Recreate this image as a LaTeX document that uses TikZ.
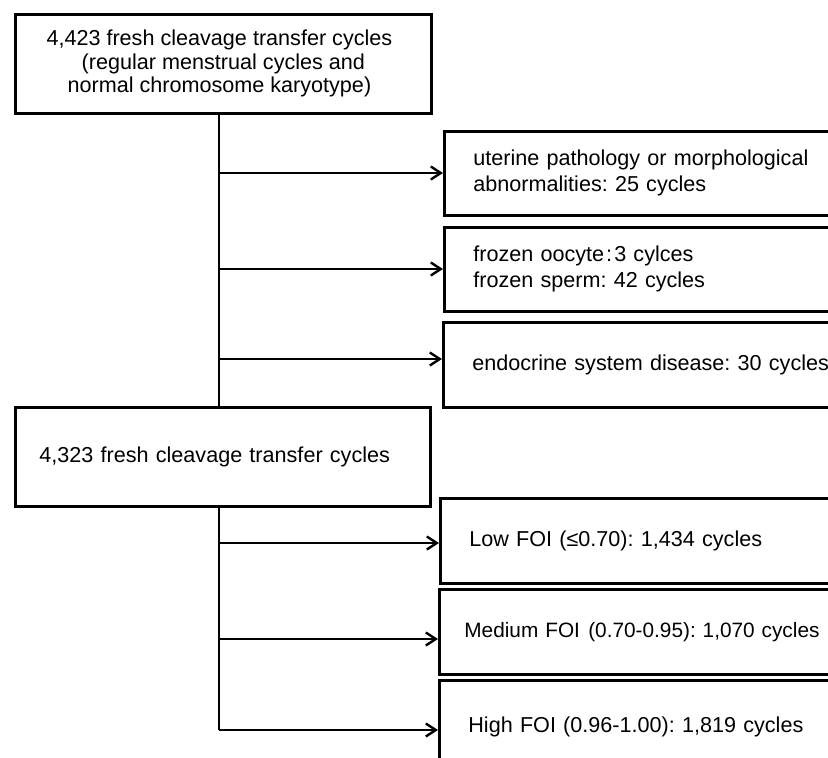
\documentclass[tikz,border=0pt]{standalone}
\usepackage{fontspec}
\setmainfont{Liberation Sans}
\usetikzlibrary{arrows.meta}
\frenchspacing
\begin{document}
\begin{tikzpicture}[x=1pt,y=-1pt,
  boxstyle/.style={draw, line width=2.8pt, inner ysep=0pt},
  conn/.style={line width=2.2pt},
  arr/.style={conn, -{Straight Barb[length=10pt,width=13pt,line width=2.4pt]}},
  txt/.style={font=\fontsize{21.6}{26}\selectfont},
  sidebox/.style={boxstyle, txt, anchor=north west, align=left, inner xsep=29pt, text width=380pt, minimum height=84pt}]
\useasboundingbox (0,0) rectangle (828,758);
\clip (0,0) rectangle (828,758);
\fill[white] (0,0) rectangle (828,758);

% main boxes
\node[boxstyle, anchor=north west, minimum width=416pt, minimum height=99pt, align=center,
      inner xsep=0pt, font=\fontsize{21.6}{23.5}\selectfont] (top) at (14,13)
  {4,423 fresh cleavage transfer cycles\hspace*{8pt}\\(regular menstrual cycles and\hspace*{8pt}\\normal chromosome karyotype)\hspace*{8pt}};
\node[boxstyle, txt, anchor=north west, minimum width=415pt, minimum height=99pt, align=left,
      inner xsep=24pt, text width=367pt] (mid) at (14,406)
  {4,323 fresh cleavage transfer cycles};

% side boxes (upper)
\node[sidebox] (bA) at (443,130) {uterine pathology or morphological\\abnormalities: 25 cycles};
\node[sidebox] (bB) at (443,226) {frozen oocyte\hspace{2pt}:\hspace{2pt}3 cylces\\frozen sperm: 42 cycles};
\node[sidebox, minimum height=85pt] (bC) at (442,321) {endocrine system disease: 30 cycles};

% side boxes (lower)
\node[sidebox, minimum height=85pt] (bD) at (439,497) {\raisebox{-4pt}{Low FOI (≤0.70): 1,434 cycles}};
\node[sidebox, minimum height=85pt, inner xsep=25pt, text width=420pt, font=\fontsize{20.8}{26}\selectfont] (bE) at (438,588) {Medium FOI\hspace{0.4em}(0.70-0.95): 1,070 cycles};
\node[sidebox, minimum height=93pt] (bF) at (438,679) {High FOI (0.96-1.00): 1,819 cycles};

% trunk
\coordinate (trx) at (219,0);
\coordinate (b1) at (219,173);
\coordinate (b2) at (219,269);
\coordinate (b3) at (219,359);
\coordinate (b4) at (219,543);
\coordinate (b5) at (219,639);
\coordinate (b6) at (219,730);

\draw[conn] (trx |- top.south) -- (trx |- mid.north);
\draw[conn] (trx |- mid.south) -- (b6);

\draw[arr] (b1) -- (b1 -| bA.west);
\draw[arr] (b2) -- (b2 -| bB.west);
\draw[arr] (b3) -- (b3 -| bC.west);
\draw[arr] (b4) -- (b4 -| bD.west);
\draw[arr] (b5) -- (b5 -| bE.west);
\draw[arr] (b6) -- (b6 -| bF.west);
\end{tikzpicture}
\end{document}
